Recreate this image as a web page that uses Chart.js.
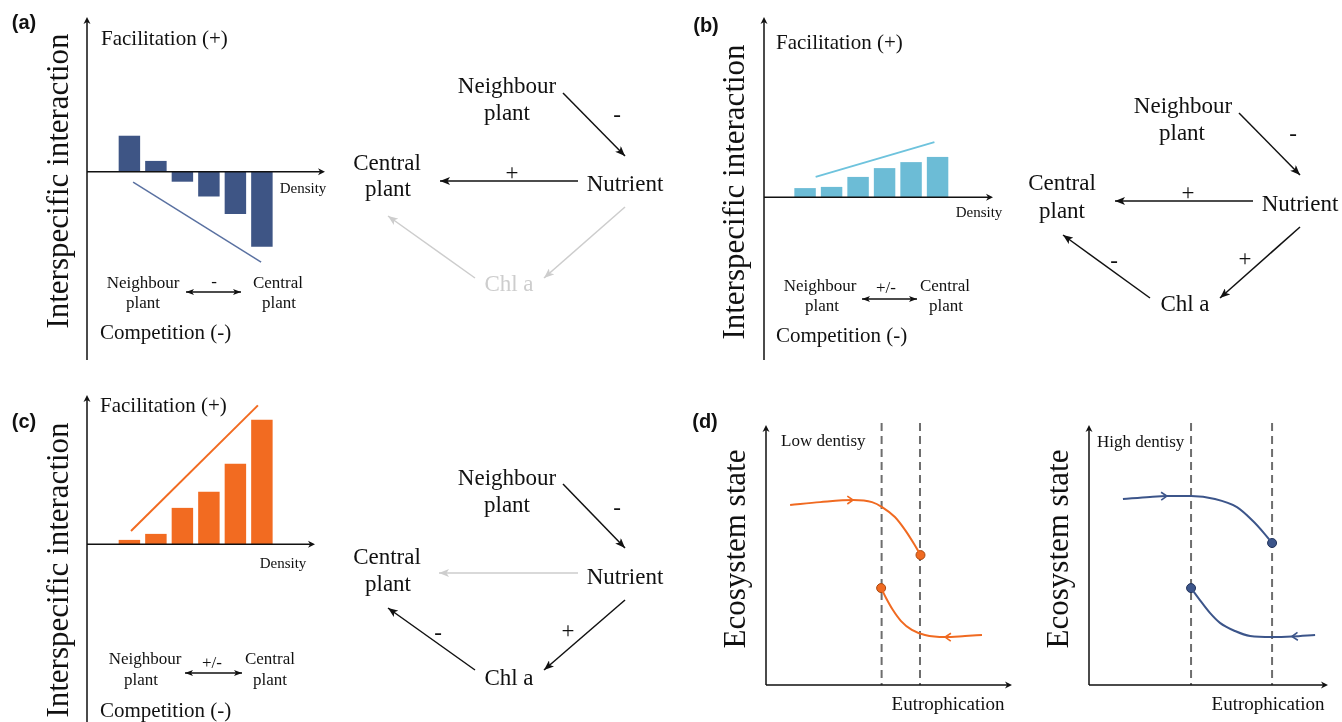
<!DOCTYPE html>
<html>
<head>
<meta charset="utf-8">
<script src="https://cdn.jsdelivr.net/npm/chart.js@4"></script>
<style>
  html, body { margin: 0; padding: 0; background: #fff; }
  #fig { position: relative; width: 1342px; height: 722px; overflow: hidden; background: #fff; }
  #fig canvas { position: absolute; }
  #notes { position: absolute; left: 0; top: 0; pointer-events: none; }
  #notes text { dominant-baseline: central; }
  .serif { font-family: "Liberation Serif", "Times New Roman", serif; fill: #111; }
  .tag { font-family: "Liberation Sans", Arial, sans-serif; font-weight: bold; font-size: 20px; fill: #111; text-anchor: middle; }
  .ytitle { font-size: 31px; text-anchor: middle; }
  .pole { font-size: 21px; }
  .dens { font-size: 15px; text-anchor: middle; }
  .small { font-size: 17px; text-anchor: middle; }
  .node { font-size: 23px; text-anchor: middle; }
  .sign { font-size: 23px; text-anchor: middle; }
  .faded { fill: #cdcdcd; }
  .state { font-size: 17px; }
  .eut { font-size: 19px; text-anchor: middle; }
</style>
</head>
<body>
<div id="fig">
  <canvas id="chartA"></canvas>
  <canvas id="chartB"></canvas>
  <canvas id="chartC"></canvas>
  <canvas id="chartLow"></canvas>
  <canvas id="chartHigh"></canvas>

  <svg id="notes" width="1342" height="722" viewBox="0 0 1342 722">
    <defs>
      <marker id="hk" viewBox="0 0 10 8" refX="10" refY="4" markerWidth="10" markerHeight="8" markerUnits="userSpaceOnUse" orient="auto-start-reverse">
        <path d="M0,0 L10,4 L0,8 L2.5,4 z" fill="#111"/>
      </marker>
      <marker id="hg" viewBox="0 0 10 8" refX="10" refY="4" markerWidth="10" markerHeight="8" markerUnits="userSpaceOnUse" orient="auto-start-reverse">
        <path d="M0,0 L10,4 L0,8 L2.5,4 z" fill="#cdcdcd"/>
      </marker>
      <marker id="hs" viewBox="0 0 8 6" refX="8" refY="3" markerWidth="8" markerHeight="6" markerUnits="userSpaceOnUse" orient="auto-start-reverse">
        <path d="M0,0 L8,3 L0,6 L2,3 z" fill="#111"/>
      </marker>
    </defs>

    <!-- panel tags -->
    <text class="tag" x="24" y="22">(a)</text>
    <text class="tag" x="706" y="25">(b)</text>
    <text class="tag" x="24" y="421">(c)</text>
    <text class="tag" x="705" y="421">(d)</text>

    <!-- panel (a) labels -->
    <text class="serif ytitle" transform="translate(57,181) rotate(-90)">Interspecific interaction</text>
    <text class="serif pole" x="101" y="38">Facilitation (+)</text>
    <text class="serif pole" x="100" y="332">Competition (-)</text>
    <text class="serif dens" x="303" y="188">Density</text>
    <text class="serif small" x="143" y="282">Neighbour</text>
    <text class="serif small" x="143" y="302">plant</text>
    <text class="serif small" x="214" y="281">-</text>
    <text class="serif small" x="278" y="282">Central</text>
    <text class="serif small" x="279" y="302">plant</text>
    <line x1="186" y1="292" x2="241" y2="292" stroke="#111" stroke-width="1.5" marker-start="url(#hs)" marker-end="url(#hs)"/>

    <!-- panel (a) pathway diagram -->
    <text class="serif node" x="507" y="85">Neighbour</text>
    <text class="serif node" x="507" y="112">plant</text>
    <text class="serif node" x="387" y="162">Central</text>
    <text class="serif node" x="388" y="188">plant</text>
    <text class="serif node" x="625" y="183">Nutrient</text>
    <text class="serif node faded" x="509" y="283">Chl a</text>
    <text class="serif sign" x="617" y="114">-</text>
    <text class="serif sign" x="512" y="172">+</text>
    <line x1="563" y1="93" x2="625" y2="156" stroke="#111" stroke-width="1.5" marker-end="url(#hk)"/>
    <line x1="578" y1="181" x2="440" y2="181" stroke="#111" stroke-width="1.5" marker-end="url(#hk)"/>
    <line x1="625" y1="207" x2="544" y2="278" stroke="#cdcdcd" stroke-width="1.5" marker-end="url(#hg)"/>
    <line x1="475" y1="278" x2="388" y2="216" stroke="#cdcdcd" stroke-width="1.5" marker-end="url(#hg)"/>

    <!-- panel (b) labels -->
    <text class="serif ytitle" transform="translate(733,192) rotate(-90)">Interspecific interaction</text>
    <text class="serif pole" x="776" y="42">Facilitation (+)</text>
    <text class="serif pole" x="776" y="335">Competition (-)</text>
    <text class="serif dens" x="979" y="212">Density</text>
    <text class="serif small" x="820" y="285">Neighbour</text>
    <text class="serif small" x="822" y="305">plant</text>
    <text class="serif small" x="886" y="287">+/-</text>
    <text class="serif small" x="945" y="285">Central</text>
    <text class="serif small" x="946" y="305">plant</text>
    <line x1="862" y1="299" x2="917" y2="299" stroke="#111" stroke-width="1.5" marker-start="url(#hs)" marker-end="url(#hs)"/>

    <!-- panel (b) pathway diagram -->
    <text class="serif node" x="1183" y="105">Neighbour</text>
    <text class="serif node" x="1182" y="132">plant</text>
    <text class="serif node" x="1062" y="182">Central</text>
    <text class="serif node" x="1062" y="210">plant</text>
    <text class="serif node" x="1300" y="203">Nutrient</text>
    <text class="serif node" x="1185" y="303">Chl a</text>
    <text class="serif sign" x="1293" y="133">-</text>
    <text class="serif sign" x="1188" y="192">+</text>
    <text class="serif sign" x="1245" y="258">+</text>
    <text class="serif sign" x="1114" y="260">-</text>
    <line x1="1239" y1="113" x2="1300" y2="175" stroke="#111" stroke-width="1.5" marker-end="url(#hk)"/>
    <line x1="1253" y1="201" x2="1115" y2="201" stroke="#111" stroke-width="1.5" marker-end="url(#hk)"/>
    <line x1="1300" y1="227" x2="1220" y2="298" stroke="#111" stroke-width="1.5" marker-end="url(#hk)"/>
    <line x1="1150" y1="298" x2="1063" y2="235" stroke="#111" stroke-width="1.5" marker-end="url(#hk)"/>

    <!-- panel (c) labels -->
    <text class="serif ytitle" transform="translate(57,570) rotate(-90)">Interspecific interaction</text>
    <text class="serif pole" x="100" y="405">Facilitation (+)</text>
    <text class="serif pole" x="100" y="710">Competition (-)</text>
    <text class="serif dens" x="283" y="563">Density</text>
    <text class="serif small" x="145" y="658">Neighbour</text>
    <text class="serif small" x="141" y="679">plant</text>
    <text class="serif small" x="212" y="662">+/-</text>
    <text class="serif small" x="270" y="658">Central</text>
    <text class="serif small" x="270" y="679">plant</text>
    <line x1="185" y1="673" x2="242" y2="673" stroke="#111" stroke-width="1.5" marker-start="url(#hs)" marker-end="url(#hs)"/>

    <!-- panel (c) pathway diagram -->
    <text class="serif node" x="507" y="477">Neighbour</text>
    <text class="serif node" x="507" y="504">plant</text>
    <text class="serif node" x="387" y="556">Central</text>
    <text class="serif node" x="388" y="583">plant</text>
    <text class="serif node" x="625" y="576">Nutrient</text>
    <text class="serif node" x="509" y="677">Chl a</text>
    <text class="serif sign" x="617" y="507">-</text>
    <text class="serif sign" x="568" y="630">+</text>
    <text class="serif sign" x="438" y="632">-</text>
    <line x1="563" y1="484" x2="625" y2="548" stroke="#111" stroke-width="1.5" marker-end="url(#hk)"/>
    <line x1="578" y1="573" x2="439" y2="573" stroke="#cdcdcd" stroke-width="1.5" marker-end="url(#hg)"/>
    <line x1="625" y1="600" x2="544" y2="670" stroke="#111" stroke-width="1.5" marker-end="url(#hk)"/>
    <line x1="475" y1="670" x2="388" y2="608" stroke="#111" stroke-width="1.5" marker-end="url(#hk)"/>

    <!-- panel (d) labels -->
    <text class="serif ytitle" transform="translate(734,549) rotate(-90)">Ecosystem state</text>
    <text class="serif state" x="781" y="440">Low dentisy</text>
    <text class="serif eut" x="948" y="703">Eutrophication</text>
    <text class="serif ytitle" transform="translate(1057,549) rotate(-90)">Ecosystem state</text>
    <text class="serif state" x="1097" y="441">High dentisy</text>
    <text class="serif eut" x="1268" y="703">Eutrophication</text>
  </svg>
</div>

<script>
// Interaction strength per neighbour density level (bar panels a-c)
const densityLevels = [1, 2, 3, 4, 5, 6];
const interactionA = [0.9, 0.27, -0.25, -0.62, -1.06, -1.88];
const interactionB = [0.23, 0.26, 0.51, 0.73, 0.88, 1.01];
const interactionC = [0.11, 0.26, 0.91, 1.31, 2.01, 3.11];

// Trend lines drawn alongside the bars
const trendAX = [1.14, 5.97];
const trendAY = [-0.26, -2.26];
const trendBX = [1.40, 5.88];
const trendBY = [0.51, 1.38];
const trendCX = [1.06, 5.85];
const trendCY = [0.33, 3.47];

// Ecosystem state along eutrophication, low density (d, left)
const lowUpperX = [9.8, 22.0, 35.4, 43.1, 47.2, 52.4, 56.5, 60.2, 62.8];
const lowUpperY = [68.7, 69.8, 70.6, 69.8, 67.9, 64.1, 59.2, 53.8, 49.6];
const lowLowerX = [46.8, 48.8, 51.6, 54.9, 59.3, 64.6, 72.8, 80.9, 87.8];
const lowLowerY = [37.0, 33.2, 28.6, 24.4, 21.0, 19.1, 18.3, 18.7, 19.1];
const lowThresholds = [47.0, 62.6];

// Ecosystem state along eutrophication, high density (d, right)
const highUpperX = [14.2, 25.5, 32.6, 42.7, 52.7, 61.9, 68.6, 73.2, 76.6];
const highUpperY = [71.0, 71.8, 72.1, 72.1, 71.0, 67.9, 62.6, 58.0, 54.2];
const highLowerX = [42.7, 46.4, 50.6, 54.8, 61.1, 67.4, 76.6, 84.9, 94.6];
const highLowerY = [37.0, 32.4, 27.5, 23.7, 20.6, 18.7, 18.3, 18.5, 19.1];
const highThresholds = [42.7, 76.6];

const PAD = 12;

function place(id, area) {
  const c = document.getElementById(id);
  c.width = area.r - area.l + 2 * PAD;
  c.height = area.b - area.t + 2 * PAD;
  c.style.left = (area.l - PAD) + 'px';
  c.style.top = (area.t - PAD) + 'px';
  c.style.width = c.width + 'px';
  c.style.height = c.height + 'px';
  return c;
}

function arrowHead(ctx, x, y, ang, len, half) {
  ctx.save();
  ctx.translate(x, y);
  ctx.rotate(ang);
  ctx.beginPath();
  ctx.moveTo(0, 0);
  ctx.lineTo(-len, -half);
  ctx.lineTo(-len * 0.7, 0);
  ctx.lineTo(-len, half);
  ctx.closePath();
  ctx.fill();
  ctx.restore();
}

// Arrowed axes: vertical at the left edge, horizontal through zero
const densityAxes = {
  id: 'densityAxes',
  afterDatasetsDraw(chart) {
    const { ctx, chartArea: a, scales } = chart;
    const y0 = scales.y.getPixelForValue(0);
    ctx.save();
    ctx.strokeStyle = '#111';
    ctx.fillStyle = '#111';
    ctx.lineWidth = 1.5;
    ctx.beginPath();
    ctx.moveTo(a.left, a.bottom);
    ctx.lineTo(a.left, a.top + 4);
    ctx.moveTo(a.left, y0);
    ctx.lineTo(a.right - 4, y0);
    ctx.stroke();
    arrowHead(ctx, a.left, a.top, -Math.PI / 2, 7, 3.5);
    arrowHead(ctx, a.right, y0, 0, 7, 3.5);
    ctx.restore();
  }
};

// Axes, threshold guides and direction chevrons for the state curves
const stateDecor = {
  id: 'stateDecor',
  beforeDatasetsDraw(chart, args, opts) {
    const { ctx, chartArea: a, scales } = chart;
    ctx.save();
    ctx.strokeStyle = '#6e6e6e';
    ctx.lineWidth = 2;
    ctx.setLineDash([8, 5]);
    (opts.thresholds || []).forEach(t => {
      const x = scales.x.getPixelForValue(t);
      ctx.beginPath();
      ctx.moveTo(x, a.top);
      ctx.lineTo(x, a.bottom);
      ctx.stroke();
    });
    ctx.restore();
  },
  afterDatasetsDraw(chart, args, opts) {
    const { ctx, chartArea: a } = chart;
    ctx.save();
    ctx.strokeStyle = '#111';
    ctx.fillStyle = '#111';
    ctx.lineWidth = 1.5;
    ctx.beginPath();
    ctx.moveTo(a.left, a.bottom);
    ctx.lineTo(a.left, a.top + 6);
    ctx.moveTo(a.left, a.bottom);
    ctx.lineTo(a.right - 4, a.bottom);
    ctx.stroke();
    arrowHead(ctx, a.left, a.top + 2, -Math.PI / 2, 7, 3.5);
    arrowHead(ctx, a.right, a.bottom, 0, 7, 3.5);

    ctx.strokeStyle = opts.color;
    ctx.lineWidth = 1.6;
    (opts.marks || []).forEach(m => {
      const pts = chart.getDatasetMeta(m.dataset).data;
      const p = pts[m.index];
      const prev = pts[Math.max(0, m.index - 1)];
      const next = pts[Math.min(pts.length - 1, m.index + 1)];
      let ang = Math.atan2(next.y - prev.y, next.x - prev.x);
      if (m.dir < 0) ang += Math.PI;
      const arm = 7, spread = 0.6;
      ctx.beginPath();
      ctx.moveTo(p.x - arm * Math.cos(ang - spread), p.y - arm * Math.sin(ang - spread));
      ctx.lineTo(p.x, p.y);
      ctx.lineTo(p.x - arm * Math.cos(ang + spread), p.y - arm * Math.sin(ang + spread));
      ctx.stroke();
    });
    ctx.restore();
  }
};

function barPanel(id, area, xMin, yMin, yMax, values, tx, ty, barColor, lineColor, lineWidth) {
  const canvas = place(id, area);
  const pxPerUnit = 26.5;
  const xMax = xMin + (area.r - area.l) / pxPerUnit;
  return new Chart(canvas, {
    type: 'bar',
    data: {
      datasets: [
        {
          type: 'bar',
          data: densityLevels.map((d, i) => ({ x: d, y: values[i] })),
          backgroundColor: barColor,
          borderWidth: 0,
          barPercentage: 0.81,
          categoryPercentage: 1,
          order: 2
        },
        {
          type: 'line',
          data: tx.map((x, i) => ({ x: x, y: ty[i] })),
          borderColor: lineColor,
          borderWidth: lineWidth,
          pointRadius: 0,
          fill: false,
          order: 1
        }
      ]
    },
    options: {
      responsive: false,
      animation: false,
      events: [],
      layout: { padding: PAD },
      plugins: { legend: { display: false }, tooltip: { enabled: false } },
      scales: {
        x: { type: 'linear', min: xMin, max: xMax, offset: false, display: false },
        y: { type: 'linear', min: yMin, max: yMax, display: false }
      }
    },
    plugins: [densityAxes]
  });
}

function statePanel(id, area, upX, upY, loX, loY, thresholds, color, edge, marks) {
  const canvas = place(id, area);
  const tips = [
    { x: upX[upX.length - 1], y: upY[upY.length - 1] },
    { x: loX[0], y: loY[0] }
  ];
  return new Chart(canvas, {
    type: 'line',
    data: {
      datasets: [
        {
          data: upX.map((x, i) => ({ x: x, y: upY[i] })),
          borderColor: color, borderWidth: 2, pointRadius: 0,
          cubicInterpolationMode: 'monotone', fill: false
        },
        {
          data: loX.map((x, i) => ({ x: x, y: loY[i] })),
          borderColor: color, borderWidth: 2, pointRadius: 0,
          cubicInterpolationMode: 'monotone', fill: false
        },
        {
          type: 'scatter',
          data: tips,
          backgroundColor: color, borderColor: edge, borderWidth: 1,
          pointRadius: 4.5, showLine: false
        }
      ]
    },
    options: {
      responsive: false,
      animation: false,
      events: [],
      layout: { padding: PAD },
      plugins: {
        legend: { display: false },
        tooltip: { enabled: false },
        stateDecor: { thresholds: thresholds, color: color, marks: marks }
      },
      scales: {
        x: { type: 'linear', min: 0, max: 100, display: false },
        y: { type: 'linear', min: 0, max: 100, display: false }
      }
    },
    plugins: [stateDecor]
  });
}

barPanel('chartA', { l: 87, r: 325, t: 17, b: 360 }, -0.6, -4.71, 3.87,
  interactionA, trendAX, trendAY, '#3e5585', '#5a71a1', 1.5);
barPanel('chartB', { l: 764, r: 993, t: 17, b: 360 }, -0.55, -4.07, 4.51,
  interactionB, trendBX, trendBY, '#6cbcd6', '#6ec3dd', 2);
barPanel('chartC', { l: 87, r: 315, t: 395, b: 722 }, -0.6, -4.44, 3.73,
  interactionC, trendCX, trendCY, '#f26b21', '#f26b21', 2);

statePanel('chartLow', { l: 766, r: 1012, t: 423, b: 685 },
  lowUpperX, lowUpperY, lowLowerX, lowLowerY, lowThresholds, '#f06a21', '#a8480f',
  [{ dataset: 0, index: 2, dir: 1 }, { dataset: 1, index: 6, dir: -1 }]);
statePanel('chartHigh', { l: 1089, r: 1328, t: 423, b: 685 },
  highUpperX, highUpperY, highLowerX, highLowerY, highThresholds, '#3c558a', '#22335a',
  [{ dataset: 0, index: 2, dir: 1 }, { dataset: 1, index: 7, dir: -1 }]);
</script>
</body>
</html>
